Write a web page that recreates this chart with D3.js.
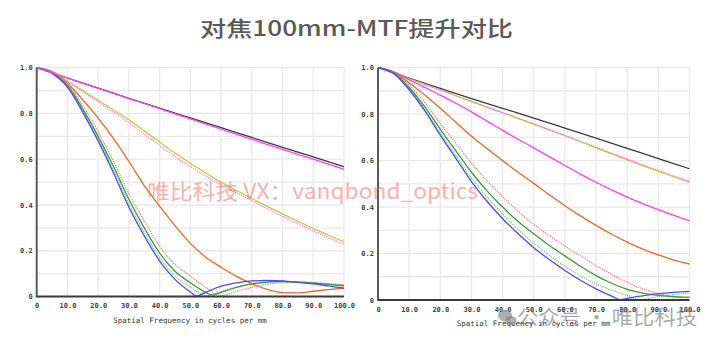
<!DOCTYPE html>
<html>
<head>
<meta charset="utf-8">
<script src="https://cdn.jsdelivr.net/npm/d3@7"></script>
<style>
  html, body { margin: 0; padding: 0; background: #fff; }
  svg { display: block; }
</style>
</head>
<body>
<svg id="chart" width="720" height="346"></svg>
<script>
// ---- data ----
const titleText = "对焦100mm-MTF提升对比";
const xAxisTitle = "Spatial Frequency in cycles per mm";
const freqTicks = [0, 10, 20, 30, 40, 50, 60, 70, 80, 90, 100];
const mtfTicks = [0, 0.2, 0.4, 0.6, 0.8, 1.0];
const mtfGrid = [0, 0.1, 0.2, 0.3, 0.4, 0.5, 0.6, 0.7, 0.8, 0.9, 1.0];

// before: [cycles/mm, MTF]
const diffBefore = [[0,1],[10,0.955],[20,0.911],[30,0.866],[40,0.823],[50,0.781],[60,0.738],[70,0.695],[80,0.652],[90,0.610],[100,0.567]];
const magentaBefore = [[0,1],[10,0.955],[20,0.911],[30,0.866],[40,0.821],[50,0.776],[60,0.731],[70,0.687],[80,0.643],[90,0.600],[100,0.556]];
const yellowBefore = [[0,1],[5,0.985],[10,0.943],[15,0.9],[20,0.858],[25,0.815],[30,0.772],[35,0.724],[40,0.675],[45,0.627],[50,0.582],[55,0.54],[60,0.50],[65,0.463],[70,0.428],[75,0.394],[80,0.361],[85,0.329],[90,0.298],[95,0.268],[100,0.240]];
const magentaDotBefore = [[0,1],[5,0.984],[10,0.938],[15,0.895],[20,0.851],[25,0.806],[30,0.76],[35,0.71],[40,0.66],[45,0.612],[50,0.567],[55,0.527],[60,0.489],[65,0.453],[70,0.418],[75,0.384],[80,0.351],[85,0.319],[90,0.288],[95,0.258],[100,0.229]];
const orangeBefore = [[0,1],[5,0.98],[10,0.932],[15,0.86],[20,0.78],[25,0.69],[30,0.59],[35,0.485],[40,0.395],[45,0.31],[50,0.232],[55,0.172],[60,0.128],[65,0.088],[70,0.056],[75,0.031],[80,0.017],[85,0.016],[90,0.023],[95,0.03],[100,0.036]];
const redDotBefore = [[0,1],[5,0.98],[10,0.93],[15,0.835],[20,0.72],[25,0.59],[30,0.45],[35,0.33],[40,0.22],[45,0.14],[50,0.09],[55,0.04],[60,0.004],[65,0.022],[70,0.04],[75,0.053],[80,0.06],[85,0.062],[90,0.06],[95,0.056],[100,0.052]];
const greenBefore = [[0,1],[5,0.977],[10,0.922],[15,0.82],[20,0.70],[25,0.568],[30,0.425],[35,0.3],[40,0.19],[45,0.11],[50,0.06],[55,0.018],[57,0.006],[60,0.018],[65,0.04],[70,0.055],[75,0.063],[80,0.066],[85,0.064],[90,0.059],[95,0.053],[100,0.047]];
const greenDotBefore = [[0,1],[5,0.976],[10,0.918],[15,0.812],[20,0.69],[25,0.553],[30,0.405],[35,0.28],[40,0.17],[45,0.09],[50,0.041],[55,0.004],[60,0.022],[65,0.042],[70,0.055],[75,0.061],[80,0.063],[85,0.061],[90,0.058],[95,0.054],[100,0.05]];
const blueBefore = [[0,1],[5,0.975],[10,0.915],[15,0.805],[20,0.68],[25,0.54],[30,0.39],[35,0.265],[40,0.155],[45,0.075],[50,0.02],[52,0.002],[55,0.018],[60,0.045],[65,0.06],[70,0.068],[75,0.07],[80,0.068],[85,0.062],[90,0.055],[95,0.046],[100,0.037]];

// after: [cycles/mm, MTF]
const diffAfter = [[0,1],[10,0.955],[20,0.911],[30,0.867],[40,0.825],[50,0.783],[60,0.740],[70,0.697],[80,0.653],[90,0.609],[100,0.565]];
const magentaAfter = [[0,1],[5,0.983],[10,0.948],[15,0.915],[20,0.882],[25,0.847],[30,0.81],[35,0.77],[40,0.73],[45,0.692],[50,0.655],[55,0.617],[60,0.579],[65,0.542],[70,0.507],[75,0.474],[80,0.443],[85,0.415],[90,0.389],[95,0.364],[100,0.341]];
const yellowAfter = [[0,1],[10,0.953],[20,0.905],[30,0.855],[40,0.806],[50,0.757],[60,0.707],[70,0.655],[80,0.603],[90,0.554],[100,0.506]];
const magentaDotAfter = [[0,1],[10,0.951],[20,0.903],[30,0.854],[40,0.806],[50,0.758],[60,0.709],[70,0.658],[80,0.607],[90,0.558],[100,0.511]];
const orangeAfter = [[0,1],[5,0.98],[10,0.935],[15,0.882],[20,0.825],[25,0.765],[30,0.705],[35,0.652],[40,0.6],[45,0.55],[50,0.502],[55,0.453],[60,0.406],[65,0.362],[70,0.321],[75,0.283],[80,0.249],[85,0.219],[90,0.194],[95,0.172],[100,0.155]];
const redDotAfter = [[0,1],[5,0.98],[10,0.925],[15,0.85],[20,0.76],[25,0.675],[30,0.59],[35,0.513],[40,0.445],[45,0.382],[50,0.325],[55,0.277],[60,0.232],[65,0.19],[70,0.148],[75,0.11],[80,0.076],[85,0.048],[90,0.028],[95,0.014],[100,0.008]];
const greenAfter = [[0,1],[5,0.978],[10,0.915],[15,0.832],[20,0.735],[25,0.642],[30,0.55],[35,0.47],[40,0.4],[45,0.338],[50,0.285],[55,0.235],[60,0.19],[65,0.145],[70,0.105],[75,0.072],[80,0.046],[85,0.03],[90,0.02],[95,0.014],[100,0.012]];
const greenDotAfter = [[0,1],[5,0.976],[10,0.91],[15,0.822],[20,0.72],[25,0.622],[30,0.525],[35,0.443],[40,0.37],[45,0.303],[50,0.245],[55,0.193],[60,0.145],[65,0.104],[70,0.07],[75,0.042],[80,0.02],[84,0.002],[90,0.015],[95,0.023],[100,0.03]];
const blueAfter = [[0,1],[5,0.975],[10,0.905],[15,0.815],[20,0.71],[25,0.61],[30,0.51],[35,0.425],[40,0.35],[45,0.285],[50,0.225],[55,0.174],[60,0.127],[65,0.085],[70,0.048],[75,0.017],[78,0.001],[80,0.007],[85,0.018],[90,0.027],[95,0.033],[100,0.037]];

// ---- line styles ----
const styles = {
  diff:       { color: "#3c3c3c", dash: null, width: 1.3 },
  magenta:    { color: "#ff3cff", dash: null, width: 1.3 },
  yellow:     { color: "#c8c832", dash: null, width: 1.2 },
  magentaDot: { color: "#ff66ff", dash: "1.2,1", width: 1.1 },
  orange:     { color: "#ee6628", dash: null, width: 1.3 },
  redDot:     { color: "#ff6a6a", dash: "1.2,1", width: 1.1 },
  green:      { color: "#3c9a3c", dash: null, width: 1.3 },
  greenDot:   { color: "#6cbf6c", dash: "1.2,1", width: 1.1 },
  blue:       { color: "#4a4aff", dash: null, width: 1.3 }
};

const panels = [
  { left: 36.7, right: 344, top: 67.7, bottom: 296.5, titleX: 190, titleY: 322.5,
    series: [["diff", diffBefore], ["yellow", yellowBefore], ["magentaDot", magentaDotBefore],
             ["orange", orangeBefore], ["redDot", redDotBefore], ["greenDot", greenDotBefore],
             ["green", greenBefore], ["blue", blueBefore], ["magenta", magentaBefore]] },
  { left: 378, right: 689.5, top: 67.7, bottom: 300, titleX: 533.5, titleY: 326,
    series: [["diff", diffAfter], ["yellow", yellowAfter], ["magentaDot", magentaDotAfter],
             ["magenta", magentaAfter], ["orange", orangeAfter], ["redDot", redDotAfter],
             ["greenDot", greenDotAfter], ["green", greenAfter], ["blue", blueAfter]] }
];

const svg = d3.select("#chart");
const monoFont = "'DejaVu Sans Mono', 'Liberation Mono', monospace";

// title
svg.append("text")
  .attr("x", 200).attr("y", 36)
  .attr("textLength", 313).attr("lengthAdjust", "spacingAndGlyphs")
  .attr("font-family", "'Noto Sans CJK SC', 'Noto Sans', sans-serif")
  .attr("font-size", 21).attr("font-weight", 500).attr("fill", "#595959")
  .text(titleText);

const fmt = v => v === 0 ? "0" : d3.format(".1f")(v);

panels.forEach(p => {
  const x = d3.scaleLinear().domain([0, 100]).range([p.left, p.right]);
  const y = d3.scaleLinear().domain([0, 1]).range([p.bottom, p.top]);
  const g = svg.append("g");

  // grid
  g.append("g").selectAll("line.v").data(freqTicks).join("line")
    .attr("x1", d => x(d)).attr("x2", d => x(d))
    .attr("y1", y(1)).attr("y2", y(0))
    .attr("stroke", "#e9e9e9").attr("stroke-width", 1.3);
  g.append("g").selectAll("line.h").data(mtfGrid).join("line")
    .attr("x1", x(0)).attr("x2", x(100))
    .attr("y1", d => y(d)).attr("y2", d => y(d))
    .attr("stroke", "#e9e9e9").attr("stroke-width", 1.3);

  // axes
  const xAxis = d3.axisBottom(x).tickValues(freqTicks).tickFormat(fmt).tickSize(0).tickPadding(7);
  const yAxis = d3.axisLeft(y).tickValues(mtfTicks).tickFormat(fmt).tickSize(0).tickPadding(4);
  const gx = g.append("g").attr("transform", `translate(0,${p.bottom})`).call(xAxis);
  const gy = g.append("g").attr("transform", `translate(${p.left},0)`).call(yAxis);
  [gx, gy].forEach(a => {
    a.select(".domain").remove();
    a.selectAll("text").attr("font-family", monoFont).attr("font-size", 7)
      .attr("font-weight", "bold").attr("fill", "#444");
  });

  // curves
  const line = d3.line().x(d => x(d[0])).y(d => y(d[1])).curve(d3.curveMonotoneX);
  p.series.forEach(([key, data]) => {
    const s = styles[key];
    g.append("path").datum(data)
      .attr("d", line)
      .attr("fill", "none")
      .attr("stroke", s.color)
      .attr("stroke-width", s.width)
      .attr("stroke-dasharray", s.dash)
      .attr("stroke-linejoin", "round");
  });

  // axis lines
  g.append("line").attr("x1", p.left).attr("x2", p.left).attr("y1", y(1)).attr("y2", y(0) + 1)
    .attr("stroke", "#5a5a5a").attr("stroke-width", 2);
  g.append("line").attr("x1", p.left).attr("x2", x(100)).attr("y1", y(0)).attr("y2", y(0))
    .attr("stroke", "#3a3a3a").attr("stroke-width", 2);

  // axis title
  g.append("text")
    .attr("x", p.titleX).attr("y", p.titleY).attr("text-anchor", "middle")
    .attr("font-family", monoFont).attr("font-size", 7.5).attr("fill", "#333")
    .text(xAxisTitle);
});

// overlay marks
svg.append("text")
  .attr("x", 147).attr("y", 199)
  .attr("textLength", 331).attr("lengthAdjust", "spacingAndGlyphs")
  .attr("font-family", "'Noto Sans CJK SC', 'Noto Sans', sans-serif")
  .attr("font-size", 21).attr("fill", "#ff5c5c").attr("fill-opacity", 0.5)
  .text("唯比科技  VX：vanqbond_optics");

const badge = svg.append("g").attr("fill", "#7a7a7a").attr("fill-opacity", 0.6);
badge.append("ellipse").attr("cx", 505).attr("cy", 315.5).attr("rx", 7).attr("ry", 5.8);
badge.append("ellipse").attr("cx", 511).attr("cy", 320.5).attr("rx", 5.5).attr("ry", 4.6);
svg.append("text")
  .attr("x", 517).attr("y", 325)
  .attr("textLength", 180).attr("lengthAdjust", "spacingAndGlyphs")
  .attr("font-family", "'Noto Sans CJK SC', 'Noto Sans', sans-serif")
  .attr("font-size", 20).attr("fill", "#6e6e6e").attr("fill-opacity", 0.6)
  .text("公众号 · 唯比科技");
</script>
</body>
</html>
